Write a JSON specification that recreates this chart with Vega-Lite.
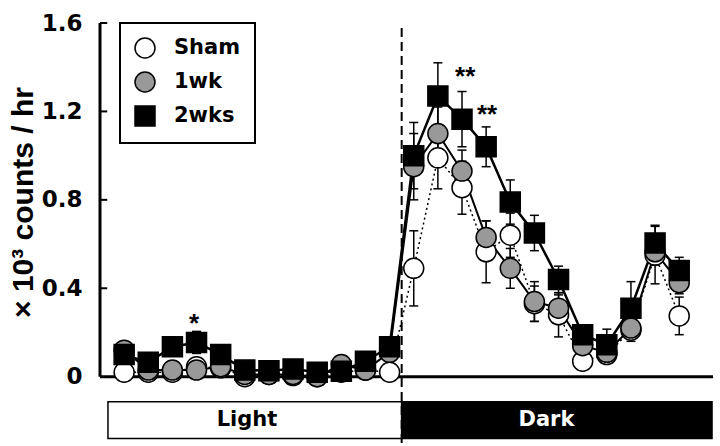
{
  "$schema": "https://vega.github.io/schema/vega-lite/v6.json",
  "autosize": {"type": "none"},
  "padding": {"left": 100, "top": 23, "right": 7, "bottom": 3},
  "width": 613,
  "height": 420,
  "config": {
    "view": {"stroke": null},
    "font": "Liberation Sans",
    "legend": {
      "orient": "none", "legendX": 20, "legendY": 0,
      "padding": 14, "strokeColor": "black", "strokeWidth": 2, "fillColor": "white",
      "labelFont": "DejaVu Sans", "labelFontSize": 21, "labelFontWeight": "bold", "labelColor": "black",
      "labelOffset": 18, "rowPadding": 8, "labelExpr": "datum.label + ' '",
      "symbolStrokeColor": "black", "symbolStrokeWidth": 1.5
    }
  },
  "datasets": {
    "activity": [
      {"h": 1, "g": "Sham", "v": 0.02, "lo": 0.0, "hi": 0.04},
      {"h": 2, "g": "Sham", "v": 0.02, "lo": 0.0, "hi": 0.04},
      {"h": 3, "g": "Sham", "v": 0.02, "lo": 0.0, "hi": 0.04},
      {"h": 4, "g": "Sham", "v": 0.045, "lo": 0.025, "hi": 0.065},
      {"h": 5, "g": "Sham", "v": 0.04, "lo": 0.02, "hi": 0.06},
      {"h": 6, "g": "Sham", "v": 0.0, "lo": -0.02, "hi": 0.02},
      {"h": 7, "g": "Sham", "v": 0.01, "lo": -0.01, "hi": 0.03},
      {"h": 8, "g": "Sham", "v": 0.005, "lo": -0.015, "hi": 0.025},
      {"h": 9, "g": "Sham", "v": 0.0, "lo": -0.02, "hi": 0.02},
      {"h": 10, "g": "Sham", "v": 0.02, "lo": 0.0, "hi": 0.04},
      {"h": 11, "g": "Sham", "v": 0.03, "lo": 0.01, "hi": 0.05},
      {"h": 12, "g": "Sham", "v": 0.02, "lo": 0.0, "hi": 0.04},
      {"h": 13, "g": "Sham", "v": 0.49, "lo": 0.32, "hi": 0.66},
      {"h": 14, "g": "Sham", "v": 0.99, "lo": 0.85, "hi": 1.13},
      {"h": 15, "g": "Sham", "v": 0.855, "lo": 0.735, "hi": 0.975},
      {"h": 16, "g": "Sham", "v": 0.565, "lo": 0.425, "hi": 0.705},
      {"h": 17, "g": "Sham", "v": 0.64, "lo": 0.54, "hi": 0.74},
      {"h": 18, "g": "Sham", "v": 0.33, "lo": 0.25, "hi": 0.41},
      {"h": 19, "g": "Sham", "v": 0.28, "lo": 0.18, "hi": 0.38},
      {"h": 20, "g": "Sham", "v": 0.07, "lo": 0.04, "hi": 0.1},
      {"h": 21, "g": "Sham", "v": 0.1, "lo": 0.07, "hi": 0.13},
      {"h": 22, "g": "Sham", "v": 0.21, "lo": 0.16, "hi": 0.26},
      {"h": 23, "g": "Sham", "v": 0.55, "lo": 0.42, "hi": 0.68},
      {"h": 24, "g": "Sham", "v": 0.275, "lo": 0.19, "hi": 0.36},
      {"h": 1, "g": "1wk", "v": 0.12, "lo": 0.1, "hi": 0.14},
      {"h": 2, "g": "1wk", "v": 0.03, "lo": 0.01, "hi": 0.05},
      {"h": 3, "g": "1wk", "v": 0.03, "lo": 0.01, "hi": 0.05},
      {"h": 4, "g": "1wk", "v": 0.03, "lo": 0.01, "hi": 0.05},
      {"h": 5, "g": "1wk", "v": 0.045, "lo": 0.025, "hi": 0.065},
      {"h": 6, "g": "1wk", "v": 0.01, "lo": -0.01, "hi": 0.03},
      {"h": 7, "g": "1wk", "v": 0.01, "lo": -0.01, "hi": 0.03},
      {"h": 8, "g": "1wk", "v": 0.01, "lo": -0.01, "hi": 0.03},
      {"h": 9, "g": "1wk", "v": 0.0, "lo": -0.02, "hi": 0.02},
      {"h": 10, "g": "1wk", "v": 0.055, "lo": 0.035, "hi": 0.075},
      {"h": 11, "g": "1wk", "v": 0.03, "lo": 0.01, "hi": 0.05},
      {"h": 12, "g": "1wk", "v": 0.11, "lo": 0.09, "hi": 0.13},
      {"h": 13, "g": "1wk", "v": 0.95, "lo": 0.8, "hi": 1.1},
      {"h": 14, "g": "1wk", "v": 1.1, "lo": 0.98, "hi": 1.22},
      {"h": 15, "g": "1wk", "v": 0.93, "lo": 0.835, "hi": 1.025},
      {"h": 16, "g": "1wk", "v": 0.63, "lo": 0.555, "hi": 0.705},
      {"h": 17, "g": "1wk", "v": 0.49, "lo": 0.4, "hi": 0.58},
      {"h": 18, "g": "1wk", "v": 0.34, "lo": 0.25, "hi": 0.43},
      {"h": 19, "g": "1wk", "v": 0.31, "lo": 0.25, "hi": 0.37},
      {"h": 20, "g": "1wk", "v": 0.14, "lo": 0.11, "hi": 0.17},
      {"h": 21, "g": "1wk", "v": 0.11, "lo": 0.08, "hi": 0.14},
      {"h": 22, "g": "1wk", "v": 0.22, "lo": 0.17, "hi": 0.27},
      {"h": 23, "g": "1wk", "v": 0.565, "lo": 0.505, "hi": 0.625},
      {"h": 24, "g": "1wk", "v": 0.425, "lo": 0.375, "hi": 0.475},
      {"h": 1, "g": "2wks", "v": 0.1, "lo": 0.08, "hi": 0.12},
      {"h": 2, "g": "2wks", "v": 0.065, "lo": 0.045, "hi": 0.085},
      {"h": 3, "g": "2wks", "v": 0.135, "lo": 0.115, "hi": 0.155},
      {"h": 4, "g": "2wks", "v": 0.155, "lo": 0.105, "hi": 0.205},
      {"h": 5, "g": "2wks", "v": 0.1, "lo": 0.08, "hi": 0.12},
      {"h": 6, "g": "2wks", "v": 0.03, "lo": 0.01, "hi": 0.05},
      {"h": 7, "g": "2wks", "v": 0.027, "lo": 0.007, "hi": 0.047},
      {"h": 8, "g": "2wks", "v": 0.035, "lo": 0.015, "hi": 0.055},
      {"h": 9, "g": "2wks", "v": 0.02, "lo": 0.0, "hi": 0.04},
      {"h": 10, "g": "2wks", "v": 0.025, "lo": 0.005, "hi": 0.045},
      {"h": 11, "g": "2wks", "v": 0.07, "lo": 0.05, "hi": 0.09},
      {"h": 12, "g": "2wks", "v": 0.135, "lo": 0.115, "hi": 0.155},
      {"h": 13, "g": "2wks", "v": 1.0, "lo": 0.85, "hi": 1.15},
      {"h": 14, "g": "2wks", "v": 1.27, "lo": 1.12, "hi": 1.42},
      {"h": 15, "g": "2wks", "v": 1.165, "lo": 1.04, "hi": 1.29},
      {"h": 16, "g": "2wks", "v": 1.04, "lo": 0.95, "hi": 1.13},
      {"h": 17, "g": "2wks", "v": 0.79, "lo": 0.69, "hi": 0.89},
      {"h": 18, "g": "2wks", "v": 0.65, "lo": 0.57, "hi": 0.73},
      {"h": 19, "g": "2wks", "v": 0.44, "lo": 0.38, "hi": 0.5},
      {"h": 20, "g": "2wks", "v": 0.19, "lo": 0.16, "hi": 0.22},
      {"h": 21, "g": "2wks", "v": 0.145, "lo": 0.075, "hi": 0.215},
      {"h": 22, "g": "2wks", "v": 0.31, "lo": 0.19, "hi": 0.43},
      {"h": 23, "g": "2wks", "v": 0.605, "lo": 0.525, "hi": 0.685},
      {"h": 24, "g": "2wks", "v": 0.48, "lo": 0.42, "hi": 0.54}
    ]
  },
  "layer": [
    {
      "data": {"values": [{"x1": 0.33, "x2": 12.5, "y1": -0.113, "y2": -0.28}]},
      "mark": {"type": "rect", "fill": "white", "stroke": "black", "strokeWidth": 1.5},
      "encoding": {
        "x": {"field": "x1", "type": "quantitative", "axis": null, "scale": {"domain": [0, 25.4], "nice": false, "zero": false}},
        "x2": {"field": "x2"},
        "y": {"field": "y1", "type": "quantitative", "scale": {"domain": [-0.3, 1.6], "nice": false, "zero": false},
          "axis": {
            "values": [0, 0.4, 0.8, 1.2, 1.6], "format": ".1~f",
            "domain": false, "ticks": false, "grid": false,
            "labelFont": "DejaVu Sans", "labelFontSize": 23, "labelFontWeight": "bold", "labelColor": "black", "labelPadding": 18,
            "title": "× 10³  counts / hr", "titleFont": "Liberation Sans", "titleFontSize": 30, "titleFontWeight": "bold", "titleColor": "black",
            "titleX": -77, "titleY": 179, "titleAngle": -90, "titleAlign": "center", "titleBaseline": "middle"
          }},
        "y2": {"field": "y2"}
      }
    },
    {
      "data": {"values": [{"x1": 12.5, "x2": 25.36, "y1": -0.113, "y2": -0.28}]},
      "mark": {"type": "rect", "fill": "black", "stroke": "black", "strokeWidth": 1.5},
      "encoding": {
        "x": {"field": "x1", "type": "quantitative"},
        "x2": {"field": "x2"},
        "y": {"field": "y1", "type": "quantitative"},
        "y2": {"field": "y2"}
      }
    },
    {
      "data": {"values": [{"lab": "Light", "x": 6.09, "y": -0.196}]},
      "mark": {"type": "text", "font": "DejaVu Sans", "fontSize": 21, "fontWeight": "bold", "align": "center", "baseline": "middle", "color": "black"},
      "encoding": {
        "x": {"field": "x", "type": "quantitative"},
        "y": {"field": "y", "type": "quantitative"},
        "text": {"field": "lab"}
      }
    },
    {
      "data": {"values": [{"lab": "Dark", "x": 18.5, "y": -0.196}]},
      "mark": {"type": "text", "font": "DejaVu Sans", "fontSize": 21, "fontWeight": "bold", "align": "center", "baseline": "middle", "color": "white"},
      "encoding": {
        "x": {"field": "x", "type": "quantitative"},
        "y": {"field": "y", "type": "quantitative"},
        "text": {"field": "lab"}
      }
    },
    {
      "data": {"values": [{"x": 0, "y1": 0, "y2": 1.6}]},
      "mark": {"type": "rule", "color": "black", "strokeWidth": 3},
      "encoding": {"x": {"field": "x", "type": "quantitative"}, "y": {"field": "y1", "type": "quantitative"}, "y2": {"field": "y2"}}
    },
    {
      "data": {"values": [{"x1": 0, "x2": 25.4, "y": 0}]},
      "mark": {"type": "rule", "color": "black", "strokeWidth": 3},
      "encoding": {"x": {"field": "x1", "type": "quantitative"}, "x2": {"field": "x2"}, "y": {"field": "y", "type": "quantitative"}}
    },
    {
      "data": {"values": [{"x1": 0, "x2": 0.3, "y": 0.4}, {"x1": 0, "x2": 0.3, "y": 0.8}, {"x1": 0, "x2": 0.3, "y": 1.2}, {"x1": 0, "x2": 0.3, "y": 1.6}]},
      "mark": {"type": "rule", "color": "black", "strokeWidth": 2},
      "encoding": {"x": {"field": "x1", "type": "quantitative"}, "x2": {"field": "x2"}, "y": {"field": "y", "type": "quantitative"}}
    },
    {
      "data": {"values": [{"x": 12.5, "y1": -0.3, "y2": 1.58}]},
      "mark": {"type": "rule", "color": "black", "strokeWidth": 2, "strokeDash": [9, 5]},
      "encoding": {"x": {"field": "x", "type": "quantitative"}, "y": {"field": "y1", "type": "quantitative"}, "y2": {"field": "y2"}}
    },
    {
      "data": {"name": "activity"},
      "transform": [{"filter": "datum.g == 'Sham'"}],
      "mark": {"type": "line", "color": "black", "strokeWidth": 1.5, "strokeDash": [2, 3]},
      "encoding": {"x": {"field": "h", "type": "quantitative"}, "y": {"field": "v", "type": "quantitative"}}
    },
    {
      "data": {"name": "activity"},
      "transform": [{"filter": "datum.g == '1wk'"}],
      "mark": {"type": "line", "color": "black", "strokeWidth": 2},
      "encoding": {"x": {"field": "h", "type": "quantitative"}, "y": {"field": "v", "type": "quantitative"}}
    },
    {
      "data": {"name": "activity"},
      "transform": [{"filter": "datum.g == '2wks'"}],
      "mark": {"type": "line", "color": "black", "strokeWidth": 2.5},
      "encoding": {"x": {"field": "h", "type": "quantitative"}, "y": {"field": "v", "type": "quantitative"}}
    },
    {
      "data": {"name": "activity"},
      "mark": {"type": "rule", "color": "black", "strokeWidth": 1.5},
      "encoding": {"x": {"field": "h", "type": "quantitative"}, "y": {"field": "lo", "type": "quantitative"}, "y2": {"field": "hi"}}
    },
    {
      "data": {"name": "activity"},
      "mark": {"type": "tick", "color": "black", "orient": "horizontal", "size": 9, "thickness": 1.5, "opacity": 1},
      "encoding": {"x": {"field": "h", "type": "quantitative"}, "y": {"field": "hi", "type": "quantitative"}}
    },
    {
      "data": {"name": "activity"},
      "mark": {"type": "tick", "color": "black", "orient": "horizontal", "size": 9, "thickness": 1.5, "opacity": 1},
      "encoding": {"x": {"field": "h", "type": "quantitative"}, "y": {"field": "lo", "type": "quantitative"}}
    },
    {
      "data": {"name": "activity"},
      "mark": {"type": "point", "filled": true, "stroke": "black", "strokeWidth": 1.5, "opacity": 1},
      "encoding": {
        "x": {"field": "h", "type": "quantitative"},
        "y": {"field": "v", "type": "quantitative"},
        "color": {"field": "g", "type": "nominal", "title": null, "scale": {"domain": ["Sham", "1wk", "2wks"], "range": ["#ffffff", "#999999", "#000000"]}},
        "shape": {"field": "g", "type": "nominal", "title": null, "scale": {"domain": ["Sham", "1wk", "2wks"], "range": ["circle", "circle", "square"]}},
        "size": {"field": "g", "type": "nominal", "title": null, "scale": {"domain": ["Sham", "1wk", "2wks"], "range": [400, 400, 530]}}
      }
    },
    {
      "data": {"values": [{"s": "*", "x": 3.9, "y": 0.2}, {"s": "**", "x": 15.13, "y": 1.32}, {"s": "**", "x": 16.04, "y": 1.148}]},
      "mark": {"type": "text", "fontSize": 26, "fontWeight": "bold", "align": "center", "baseline": "alphabetic", "color": "black"},
      "encoding": {"x": {"field": "x", "type": "quantitative"}, "y": {"field": "y", "type": "quantitative"}, "text": {"field": "s"}}
    }
  ]
}
